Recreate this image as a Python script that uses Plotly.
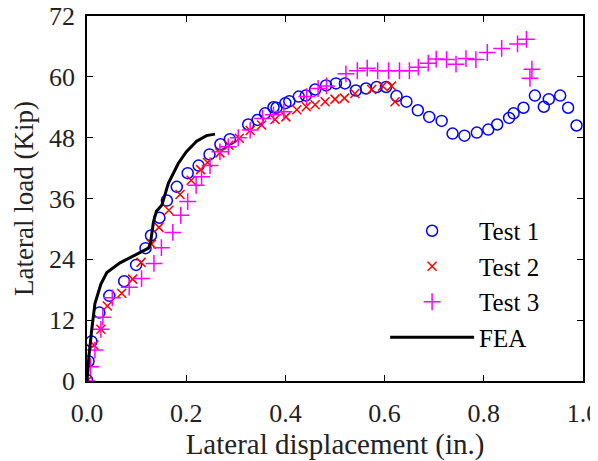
import plotly.graph_objects as go

# Test 1 (blue circles)
t1_x = [0.0, 0.003, 0.009, 0.025, 0.045, 0.075, 0.099, 0.118, 0.129, 0.146, 0.161, 0.181,
        0.203, 0.225, 0.247, 0.269, 0.288, 0.325, 0.344, 0.359, 0.376, 0.382, 0.400, 0.408,
        0.427, 0.441, 0.460, 0.482, 0.502, 0.520, 0.542, 0.5625, 0.584, 0.603, 0.624, 0.644,
        0.667, 0.690, 0.715, 0.737, 0.761, 0.786, 0.809, 0.827, 0.851, 0.860, 0.880, 0.903,
        0.921, 0.931, 0.954, 0.970, 0.987]
t1_y = [0.2, 3.9, 7.8, 13.5, 16.8, 19.7, 22.9, 26.2, 28.7, 32.2, 35.6, 38.3,
        41.0, 42.5, 44.7, 46.7, 47.7, 50.6, 51.5, 52.8, 54.0, 53.9, 54.8, 55.2,
        56.1, 56.3, 57.5, 58.3, 58.7, 58.7, 57.3, 57.7, 58.0, 58.0, 56.2, 55.1,
        53.4, 52.1, 51.3, 48.8, 48.4, 49.0, 49.6, 50.6, 51.9, 52.8, 53.9, 56.3,
        54.1, 55.6, 56.3, 53.9, 50.4]

# Test 2 (red crosses)
t2_x = [0.0, 0.014, 0.028, 0.041, 0.070, 0.092, 0.109, 0.130, 0.145, 0.165, 0.1875, 0.210,
        0.229, 0.243, 0.268, 0.286, 0.307, 0.329, 0.352, 0.379, 0.401, 0.423, 0.442, 0.460,
        0.480, 0.500, 0.519, 0.540, 0.574, 0.596, 0.614, 0.621]
t2_y = [0.0, 7.1, 10.2, 14.8, 17.3, 20.1, 23.4, 27.0, 30.3, 33.7, 36.8, 39.6,
        41.7, 43.1, 45.0, 46.5, 47.9, 49.4, 50.5, 51.6, 52.1, 53.5, 54.1, 54.5,
        55.1, 55.6, 55.8, 56.7, 57.5, 58.2, 58.2, 55.1]

# Test 3 (magenta plus)
t3_x = [0.0, 0.007, 0.016, 0.028, 0.032, 0.051, 0.085, 0.110, 0.135, 0.150, 0.173, 0.189,
        0.203, 0.220, 0.231, 0.248, 0.268, 0.285, 0.305, 0.329, 0.354, 0.376, 0.397, 0.443,
        0.466, 0.483, 0.522, 0.545, 0.565, 0.586, 0.608, 0.630, 0.650, 0.668, 0.688, 0.704,
        0.725, 0.744, 0.764, 0.784, 0.807, 0.836, 0.868, 0.886, 0.897, 0.893]
t3_y = [0.0, 2.8, 6.1, 10.2, 12.6, 16.4, 18.5, 20.2, 23.2, 26.3, 29.3, 32.7,
        35.4, 38.6, 40.3, 42.5, 45.2, 46.2, 48.0, 49.5, 51.8, 52.5, 53.1, 56.1,
        57.7, 58.2, 60.6, 61.2, 61.7, 61.2, 61.2, 61.2, 61.2, 61.9, 62.7, 63.5,
        63.4, 62.5, 63.6, 63.4, 64.8, 65.6, 66.5, 67.4, 61.5, 59.7]

# FEA (black line)
fea_x = [0.0, 0.004, 0.010, 0.016, 0.028, 0.040, 0.0665, 0.097, 0.124, 0.128, 0.134, 0.140,
         0.151, 0.164, 0.184, 0.200, 0.221, 0.241, 0.258]
fea_y = [0.0, 5.0, 10.5, 15.3, 19.1, 21.4, 23.3, 24.9, 26.2, 27.2, 31.4, 33.5,
         34.7, 39.0, 42.9, 45.2, 47.3, 48.4, 48.7]

x_ticks = [0.0, 0.2, 0.4, 0.6, 0.8, 1.0]
y_ticks = [0, 12, 24, 36, 48, 60, 72]

FONT = "Liberation Serif"

fig = go.Figure()
fig.add_trace(go.Scatter(x=t1_x, y=t1_y, mode="markers", name="Test 1",
                         marker=dict(symbol="circle-open", size=11, color="#0000FF",
                                     line=dict(width=1.5, color="#0000FF"))))
fig.add_trace(go.Scatter(x=t2_x, y=t2_y, mode="markers", name="Test 2",
                         marker=dict(symbol="x-thin-open", size=9, color="#FF0000",
                                     line=dict(width=1.5, color="#FF0000"))))
fig.add_trace(go.Scatter(x=t3_x, y=t3_y, mode="markers", name="Test 3",
                         marker=dict(symbol="cross-thin-open", size=12, color="#FF00FF",
                                     line=dict(width=1.5, color="#FF00FF"))))
fig.add_trace(go.Scatter(x=fea_x, y=fea_y, mode="lines", name="FEA",
                         line=dict(color="black", width=3)))

axis_common = dict(showline=True, linecolor="black", linewidth=1.5, mirror="ticks",
                   ticks="inside", ticklen=6, tickcolor="black", tickwidth=1,
                   showgrid=False, zeroline=False, automargin=False,
                   ticklabeloverflow="allow",
                   tickfont=dict(family=FONT, size=26, color="#222222"))

fig.update_xaxes(range=[0, 1.0], tickvals=x_ticks, tickformat=".1f",
                 ticklabelstandoff=8,
                 title=dict(text="Lateral displacement (in.)", font=dict(family=FONT, size=29, color="#222222"),
                            standoff=8),
                 **axis_common)
fig.update_yaxes(range=[0, 72], tickvals=y_ticks,
                 ticklabelstandoff=5,
                 title=dict(text="Lateral load (Kip)", font=dict(family=FONT, size=27, color="#222222"),
                            standoff=8),
                 **axis_common)

# page body has an 8px margin, so the figure is offset by 8px
fig.update_layout(
    width=590, height=453,
    margin=dict(l=79, r=15, t=8, b=80),
    plot_bgcolor="white", paper_bgcolor="white",
    font=dict(family=FONT, color="black"),
    legend=dict(x=0.601, y=0.474, xanchor="left", yanchor="top",
                bgcolor="rgba(0,0,0,0)", borderwidth=0,
                font=dict(family=FONT, size=25, color="black"),
                itemwidth=84, tracegroupgap=0),
)

fig.write_html("out.html")
